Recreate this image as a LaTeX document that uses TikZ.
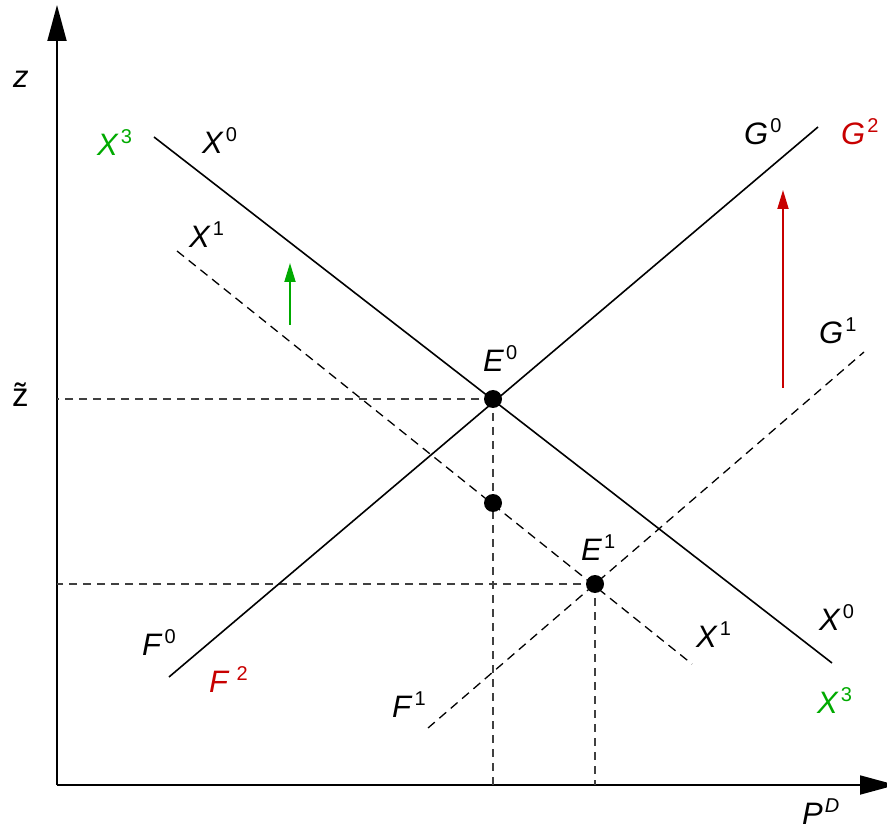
\documentclass[tikz,border=0pt]{standalone}
\usepackage{fontspec}
\setmainfont{Liberation Sans}
\usetikzlibrary{arrows.meta}
\definecolor{myred}{RGB}{200,0,0}
\definecolor{mygreen}{RGB}{0,170,0}
\newcommand\lab[3][2pt]{\textit{#2\/}\kern#1\raisebox{12pt}{\fontsize{20}{20}\selectfont #3}}
\begin{document}
\begin{tikzpicture}[x=1pt,y=-1pt,
  axisline/.style={line width=1.8pt,-{Triangle[length=36pt,width=19pt]}},
  solidline/.style={line width=1.6pt},
  dashline/.style={line width=1.3pt,dash pattern=on 9pt off 6pt},
  guide/.style={line width=1.1pt,black!75,dash pattern=on 8pt off 6pt},
  shift arrow/.style={line width=1.8pt,-{Triangle[length=19pt,width=11pt]}},
  dotnode/.style={circle,fill=black,inner sep=0pt,minimum size=18pt},
  lbl/.style={inner sep=0pt,anchor=base west,font=\fontsize{31}{31}\selectfont}]
\useasboundingbox (0,0) rectangle (887,826);
% axes
\coordinate (O) at (57,785);
\coordinate (Ytop) at (57,5);
\coordinate (Xend) at (896,785);
\draw[axisline] (O) -- (Ytop);
\draw[axisline] (O) -- (Xend);
% curve end points
\coordinate (x0a) at (154,137);
\coordinate (x0b) at (832,663);
\coordinate (g0a) at (169,677);
\coordinate (g0b) at (818,127);
\coordinate (x1a) at (177,251);
\coordinate (x1b) at (692,664);
\coordinate (g1a) at (428,728);
\coordinate (g1b) at (864,352);
% points
\coordinate (E0) at (493,399);
\coordinate (M) at (493,503);
\coordinate (E1) at (595,584);
\coordinate (zt) at (57,399);
\coordinate (z1) at (57,584);
\coordinate (p0) at (493,785);
\coordinate (p1) at (595,785);
% guides
\draw[guide] (E0) -- (zt);
\draw[guide] (E1) -- (z1);
\draw[guide] (E0) -- (p0);
\draw[guide] (E1) -- (p1);
% curves
\draw[solidline] (x0a) -- (x0b);
\draw[solidline] (g0a) -- (g0b);
\draw[dashline] (x1a) -- (x1b);
\draw[dashline] (g1a) -- (g1b);
% shift arrows
\coordinate (ga) at (290,325);
\coordinate (gb) at (290,263);
\coordinate (ra) at (783,388);
\coordinate (rb) at (783,190);
\draw[shift arrow,mygreen] (ga) -- (gb);
\draw[shift arrow,myred] (ra) -- (rb);
% dots
\node[dotnode] (dE0) at (E0) {};
\node[dotnode] (dM) at (M) {};
\node[dotnode] (dE1) at (E1) {};
% labels
\node[lbl] (lz) at (13,88) {\textit{z}};
\node[lbl,font=\fontsize{33}{33}\selectfont] (lzt) at (12,407) {\~z};
\node[lbl,mygreen] (lx3a) at (97,156) {\lab{X}{3}};
\node[lbl] (lx0a) at (202,154) {\lab{X}{0}};
\node[lbl] (lx1a) at (189,248) {\lab{X}{1}};
\node[lbl] (lg0) at (744,145) {\lab{G}{0}};
\node[lbl,myred] (lg2) at (841,145) {\lab{G}{2}};
\node[lbl] (lg1) at (819,344) {\lab{G}{1}};
\node[lbl] (le0) at (483,372) {\lab{E}{0}};
\node[lbl] (le1) at (581,560) {\lab{E}{1}};
\node[lbl] (lx1b) at (696,647) {\lab{X}{1}};
\node[lbl] (lx0b) at (819,630) {\lab{X}{0}};
\node[lbl,mygreen] (lx3b) at (817,713) {\lab{X}{3}};
\node[lbl] (lf0) at (142,655) {\lab{F}{0}};
\node[lbl,myred] (lf2) at (209,692) {\lab[7pt]{F}{2}};
\node[lbl] (lf1) at (392,717) {\lab{F}{1}};
\node[lbl] (lpd) at (802,824) {\lab{P}{\textit{D}}};
\end{tikzpicture}
\end{document}
